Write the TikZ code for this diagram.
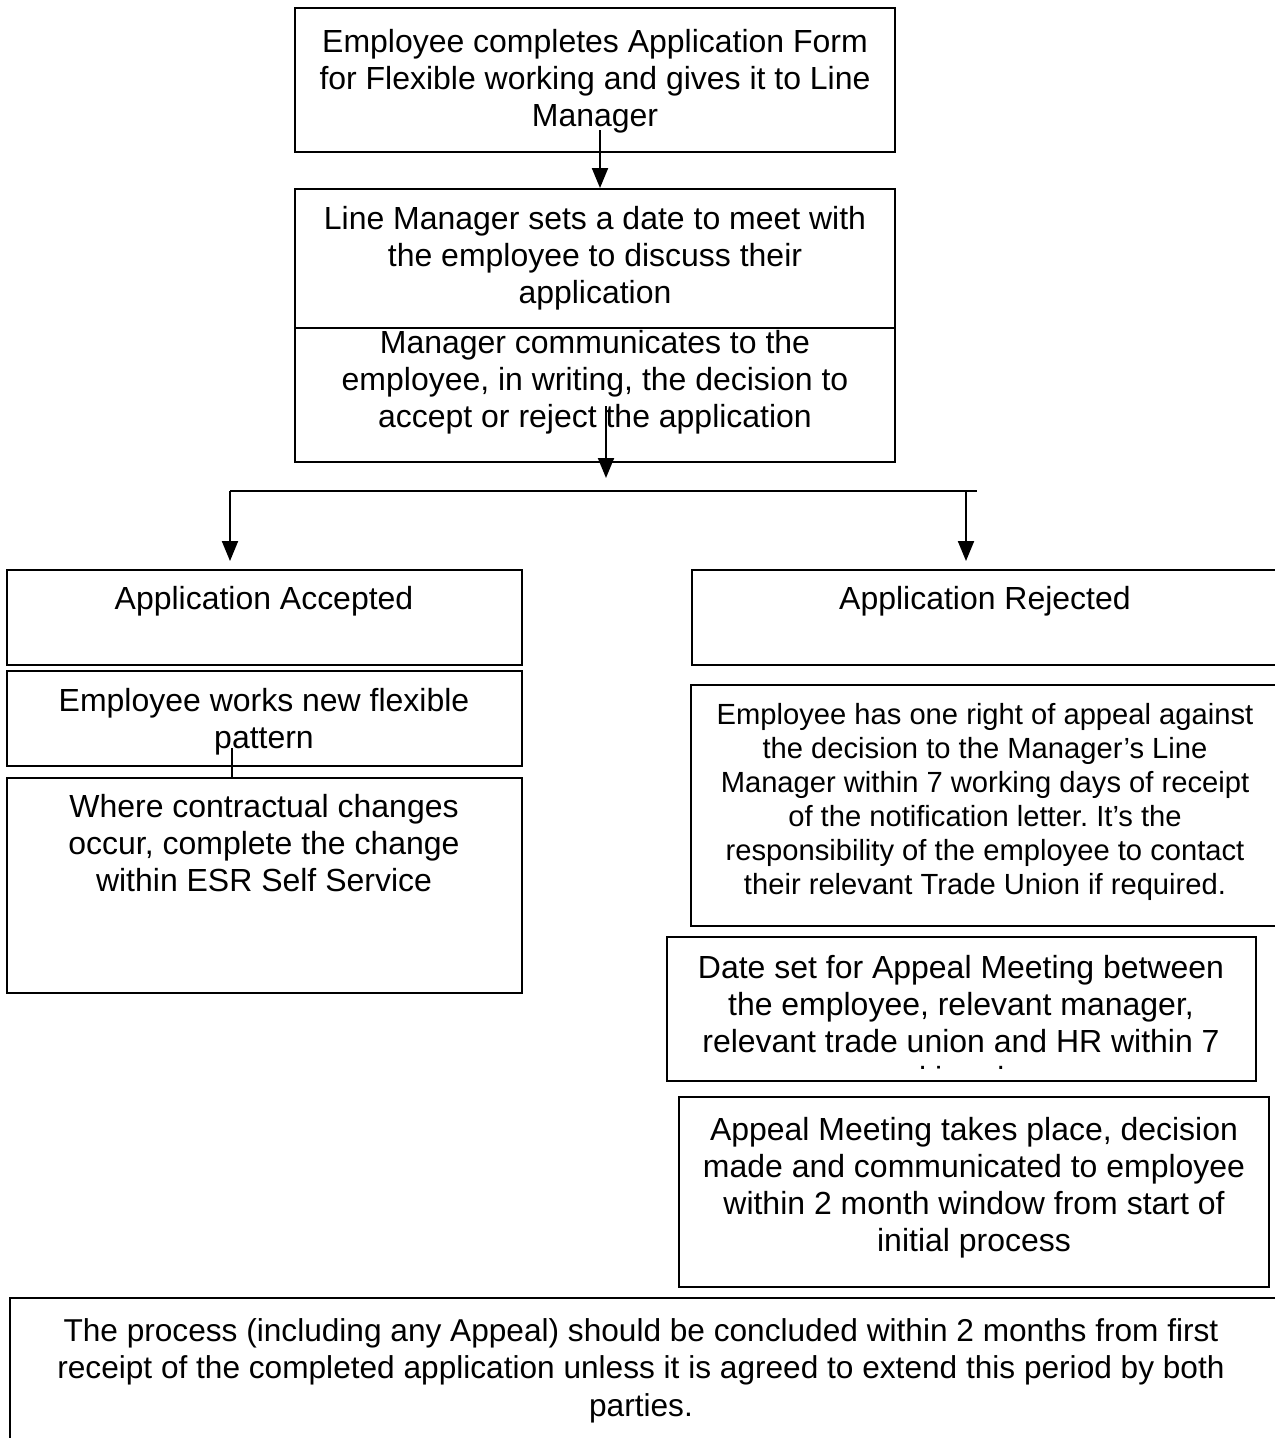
\documentclass[tikz,border=0pt]{standalone}
\usepackage{fontspec}
\setmainfont{Liberation Sans}
\usetikzlibrary{arrows.meta}
\usetikzlibrary{fit}
\usetikzlibrary{calc}
\frenchspacing

\begin{document}
\begin{tikzpicture}[x=0.02cm, y=-0.02cm,
    box/.style={draw, line width=1.1pt, inner sep=0pt},
    txt/.style={anchor=north, align=center, inner sep=0pt, font=\fontsize{18.2}{21}\selectfont},
    smalltxt/.style={txt, font=\fontsize{16.6}{19.3}\selectfont},
    notetxt/.style={txt, font=\fontsize{18}{21.3}\selectfont},
    link/.style={line width=1.1pt},
    arr/.style={link, -{Triangle[length=0.4cm, width=0.32cm]}}]
    \useasboundingbox (0, 0) rectangle (1275, 1438);
    \clip (0, 0) rectangle (1275, 1438);

    \node[box, fit={(295,8) (895,152)}] (form) {};
    \node[txt] (formt) at (595,29) {Employee completes Application Form\\for Flexible working and gives it to Line\\Manager};
    \node[box, fit={(295,189) (895,328)}] (meet) {};
    \node[txt] (meett) at (595,206) {Line Manager sets a date to meet with\\the employee to discuss their\\application};
    \node[box, fit={(295,328) (895,462)}] (decide) {};
    \node[txt] (decidet) at (595,330) {Manager communicates to the\\employee, in writing, the decision to\\accept or reject the application};

    \node[box, fit={(7,570) (522,665)}] (acc) {};
    \node[txt] (acct) at (264,586) {Application Accepted};
    \node[box, fit={(7,671) (522,766)}] (works) {};
    \node[txt] (workst) at (264,688) {Employee works new flexible\\pattern};
    \node[box, fit={(7,778) (522,993)}] (esr) {};
    \node[txt] (esrt) at (264,794) {Where contractual changes\\occur, complete the change\\within ESR Self Service};

    \node[box, fit={(692,570) (1280,665)}] (rej) {};
    \node[txt] (rejt) at (985,586) {Application Rejected};
    \node[box, fit={(691,685) (1280,926)}] (appeal) {};
    \node[smalltxt] (appealt) at (985,703) {Employee has one right of appeal against\\the decision to the Manager’s Line\\Manager within 7 working days of receipt\\of the notification letter. It’s the\\responsibility of the employee to contact\\their relevant Trade Union if required.};
    \node[box, fit={(667,937) (1256,1081)}] (date) {};
    \begin{scope}
        \clip (667,937) rectangle (1256,1068);
        \node[txt] (datet) at (961,955) {Date set for Appeal Meeting between\\the employee, relevant manager,\\relevant trade union and HR within 7\\working days};
    \end{scope}
    \node[box, fit={(679,1097) (1269,1287)}] (meeting) {};
    \node[txt] (meetingt) at (974,1117) {Appeal Meeting takes place, decision\\made and communicated to employee\\within 2 month window from start of\\initial process};

    \node[box, fit={(10,1298) (1290,1460)}] (note) {};
    \node[notetxt] (notet) at (641,1318) {The process (including any Appeal) should be concluded within 2 months from first\\receipt of the completed application unless it is agreed to extend this period by both\\parties.};

    \coordinate (fork) at (606,478);
    \coordinate (barL) at (230,491);
    \coordinate (dropR) at (966,491);
    \coordinate (barR) at (977,491);

    \draw[arr] ($(formt.south)+(5,-3)$) -- ($(formt.south |- meet.north)+(5,0)$);
    \draw[arr] ($(fork |- decidet.south)+(0,-28)$) -- (fork);
    \draw[link] (barL) -- (barR);
    \draw[arr] (barL) -- ($(barL |- acc.north)+(0,-8)$);
    \draw[arr] (dropR) -- ($(dropR |- rej.north)+(0,-8)$);
    \draw[link] ($(workst.south)+(-32,-7)$) -- ($(workst.south |- esr.north)+(-32,0)$);
\end{tikzpicture}
\end{document}
